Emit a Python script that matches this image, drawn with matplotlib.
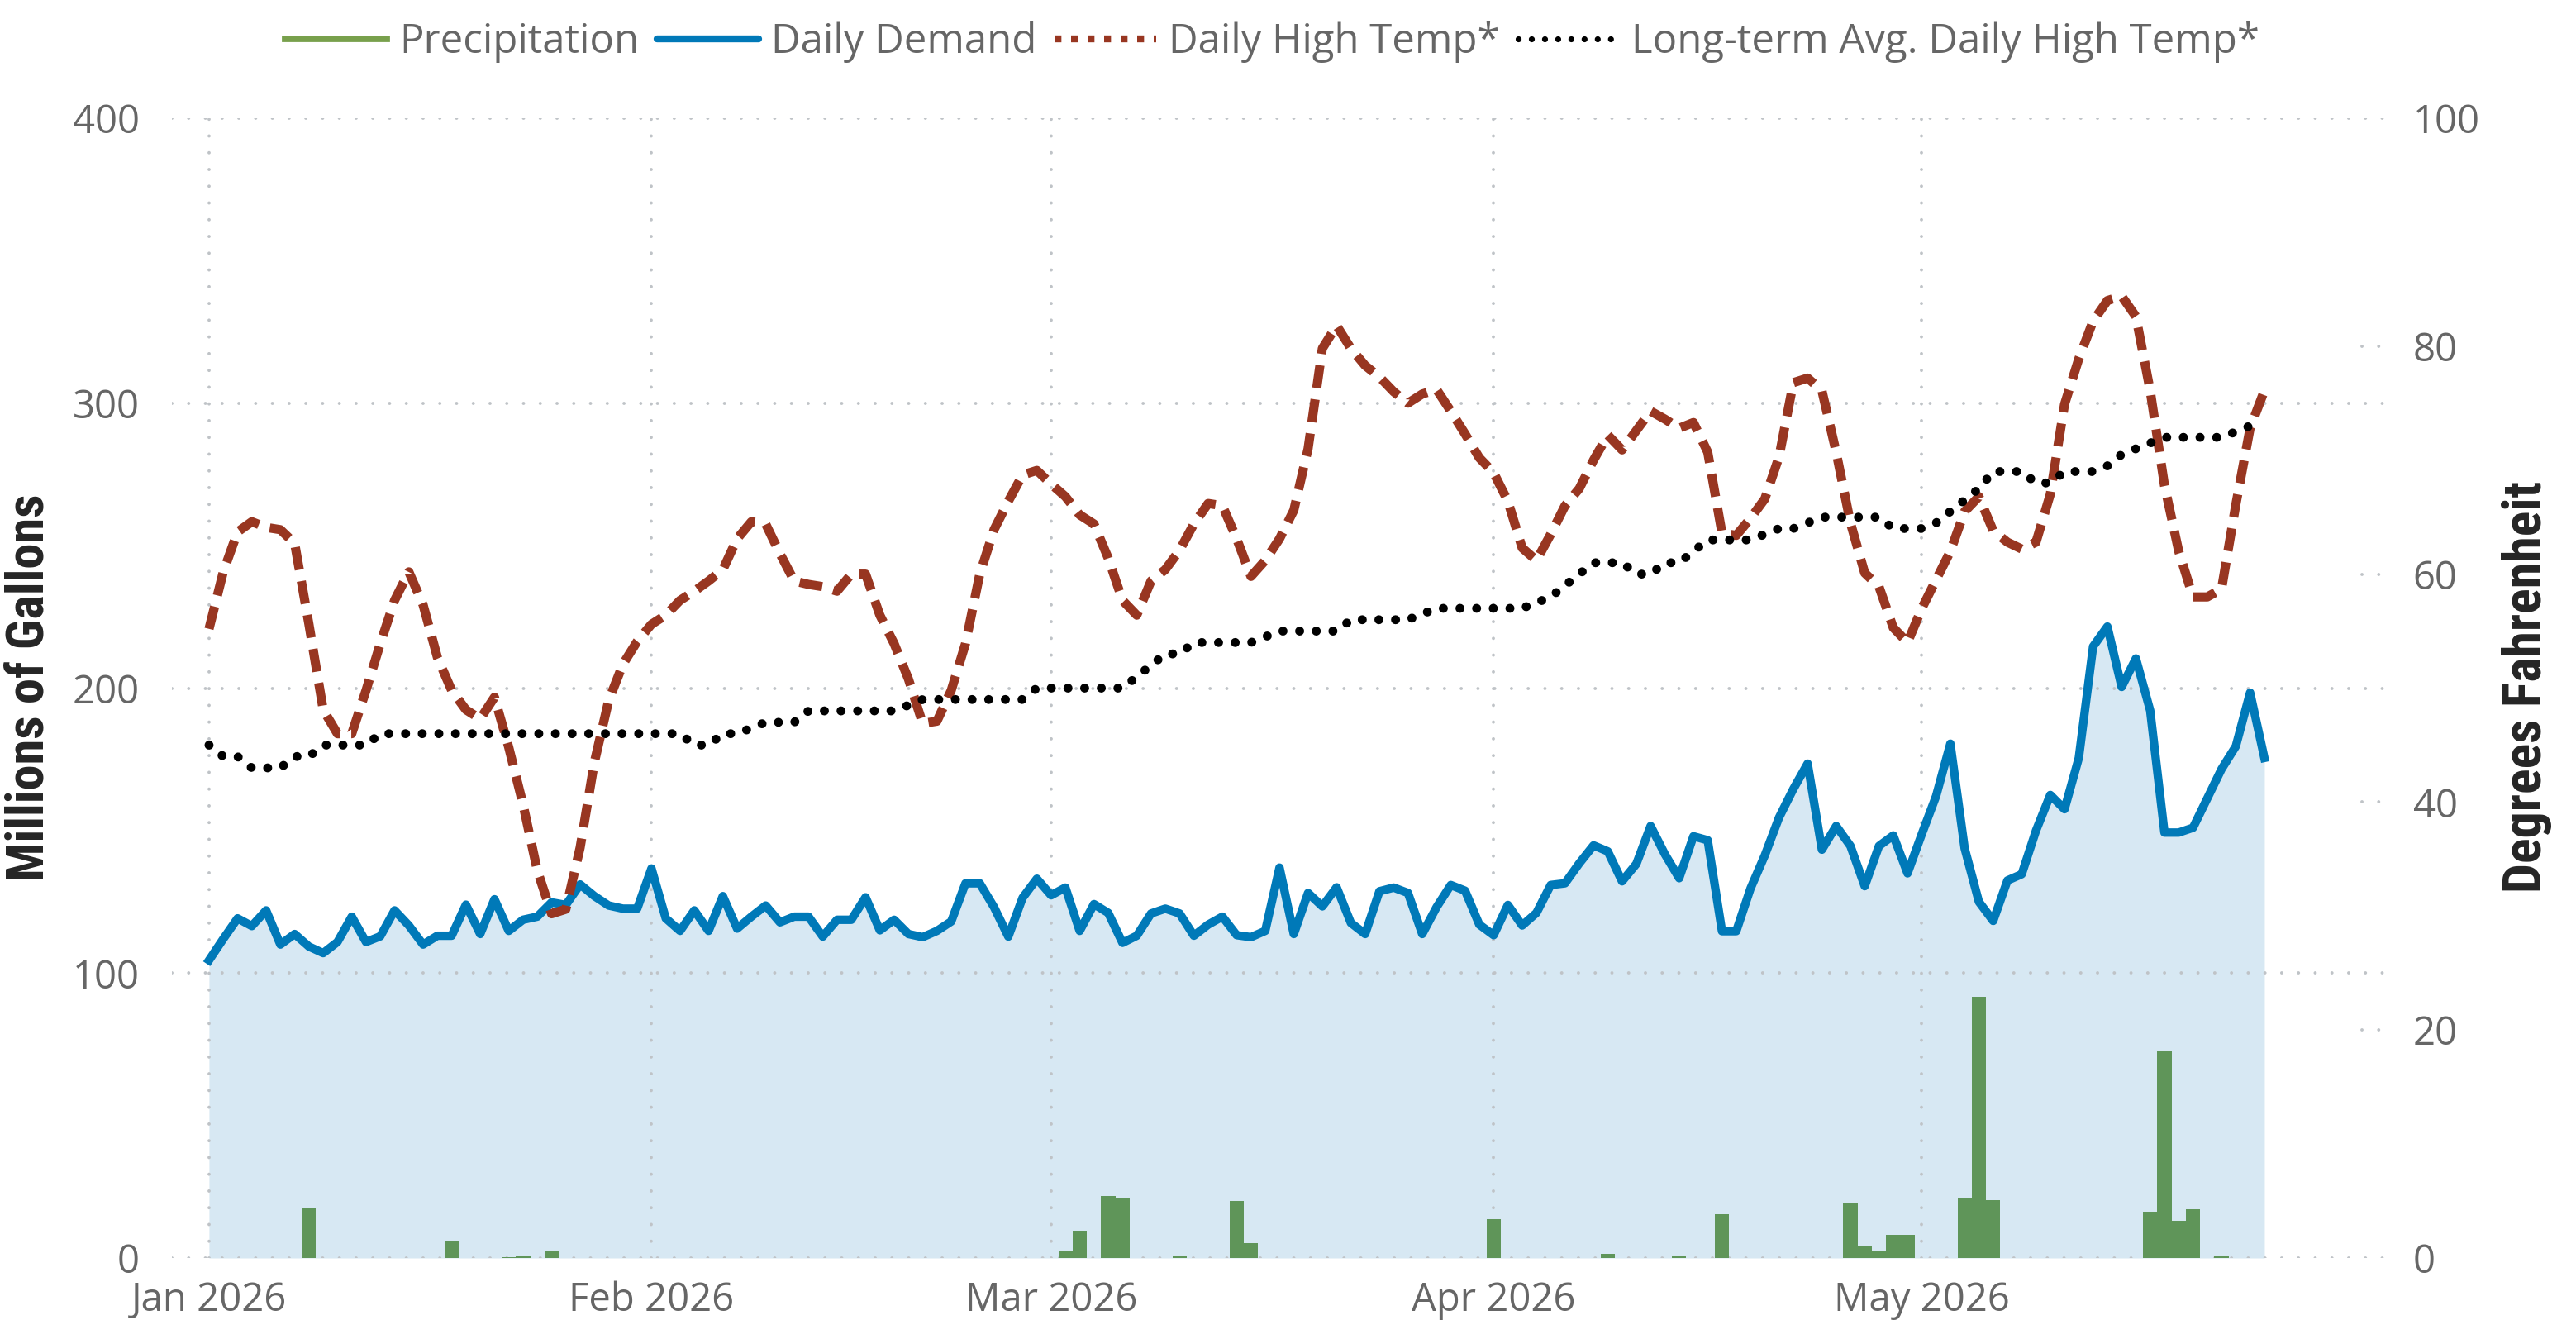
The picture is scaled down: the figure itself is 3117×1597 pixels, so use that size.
import matplotlib
matplotlib.use("Agg")
import matplotlib.pyplot as plt
import matplotlib.dates as mdates
from matplotlib.lines import Line2D
from matplotlib import font_manager
import pandas as pd

# ---------------- data ----------------
start_date = "2026-01-01"
end_date = "2026-05-25"

daily_demand = [
    104.5, 112.0, 119.2, 116.5, 122.0, 110.0, 113.7, 109.3, 107.0, 110.9,
    119.8, 110.9, 112.9, 122.0, 116.7, 110.0, 113.1, 113.1, 124.0, 113.7,
    125.9, 114.8, 118.7, 119.8, 124.8, 123.9, 131.1, 127.0, 123.7, 122.6,
    122.6, 136.7, 119.2, 114.8, 122.0, 114.8, 127.0, 115.6, 119.8, 123.7,
    117.8, 119.8, 119.8, 112.8, 118.7, 118.7, 126.6, 115.0, 118.7, 113.7,
    112.6, 114.8, 118.1, 131.5, 131.5, 123.1, 112.8, 126.4, 133.1, 127.3,
    130.0, 114.8, 124.2, 121.1, 110.6, 113.1, 120.9, 122.6, 120.9, 113.1,
    117.0, 119.8, 113.3, 112.6, 114.8, 137.0, 113.7, 128.1, 123.4, 130.1,
    117.6, 113.7, 128.7, 130.0, 128.1, 113.7, 123.1, 130.9, 128.9, 117.0,
    113.3, 123.9, 116.7, 121.1, 130.9, 131.5, 138.5, 144.8, 142.7, 132.2,
    138.3, 151.6, 141.7, 133.3, 148.0, 146.6, 114.7, 114.7, 129.7, 141.3,
    154.6, 164.6, 173.5, 143.3, 151.6, 144.6, 130.5, 144.6, 148.3, 135.0,
    148.8, 162.1, 180.5, 143.8, 125.0, 118.3, 132.5, 134.7, 150.0, 162.5,
    157.5, 175.5, 214.6, 221.6, 200.4, 210.4, 192.1, 149.3, 149.3, 151.0,
    161.3, 171.6, 179.6, 198.4, 175.5,
]

daily_high_temp = [
    55.2, 60.2, 63.7, 64.6, 64.1, 63.9, 62.7, 55.6, 48.1, 46.0,
    46.0, 49.8, 53.9, 57.7, 60.2, 57.3, 52.7, 49.8, 48.1, 47.3,
    49.2, 44.8, 39.8, 34.0, 30.2, 30.6, 36.0, 43.5, 48.9, 52.1,
    54.1, 55.6, 56.4, 57.7, 58.5, 59.4, 60.4, 63.1, 64.6, 64.4,
    61.8, 59.4, 59.1, 58.9, 58.5, 60.0, 60.0, 56.4, 53.9, 50.8,
    46.9, 47.1, 49.8, 53.9, 60.0, 63.9, 66.4, 68.7, 69.1, 67.9,
    66.8, 65.2, 64.4, 61.4, 57.7, 56.4, 59.4, 60.4, 62.1, 64.4,
    66.2, 66.0, 63.1, 59.8, 61.2, 63.1, 65.6, 71.0, 79.8, 81.8,
    79.8, 78.3, 77.3, 76.0, 75.0, 75.8, 76.2, 74.3, 72.3, 70.2,
    68.9, 66.4, 62.3, 61.2, 63.5, 66.0, 67.5, 70.0, 72.2, 70.9,
    72.6, 74.3, 73.6, 72.8, 73.3, 70.7, 63.6, 63.4, 64.9, 66.6,
    70.3, 76.8, 77.2, 76.1, 70.7, 64.5, 60.1, 58.9, 55.3, 54.0,
    57.0, 59.5, 62.0, 65.5, 66.8, 63.8, 62.8, 62.2, 62.8, 67.0,
    74.9, 78.9, 82.2, 84.0, 84.4, 82.6, 76.1, 67.8, 62.0, 58.0,
    58.0, 58.7, 66.1, 72.8, 76.1,
]

longterm_avg_temp = [
    45, 44, 44, 43, 43, 43, 44, 44, 45, 45,
    45, 45, 46, 46, 46, 46, 46, 46, 46, 46,
    46, 46, 46, 46, 46, 46, 46, 46, 46, 46,
    46, 46, 46, 46, 45, 45, 46, 46, 46.5, 47,
    47, 47, 48, 48, 48, 48, 48, 48, 48, 48.5,
    49, 49, 49, 49, 49, 49, 49, 49, 50, 50,
    50, 50, 50, 50, 50, 51, 52, 53, 53, 54,
    54, 54, 54, 54, 54.5, 55, 55, 55, 55, 55,
    56, 56, 56, 56, 56, 56.5, 57, 57, 57, 57,
    57, 57, 57, 57.5, 58, 59, 60, 61, 61, 61,
    60, 60, 61, 61, 62, 63, 63, 63, 63, 63.5,
    64, 64, 64.5, 65, 65, 65, 65, 65, 64, 64,
    64, 64.5, 65.5, 66.5, 67.5, 69, 69, 69, 68, 68,
    69, 69, 69, 69.5, 70.5, 71, 71.5, 72, 72, 72,
    72, 72, 72.5, 73, 73,
]

precip_dates = [
    "2026-01-08", "2026-01-18", "2026-01-22", "2026-01-23", "2026-01-25",
    "2026-03-02", "2026-03-03", "2026-03-05", "2026-03-06", "2026-03-10",
    "2026-03-14", "2026-03-15", "2026-04-01", "2026-04-09", "2026-04-14",
    "2026-04-17", "2026-04-26", "2026-04-27", "2026-04-28", "2026-04-29",
    "2026-04-30", "2026-05-04", "2026-05-05", "2026-05-06", "2026-05-17",
    "2026-05-18", "2026-05-19", "2026-05-20", "2026-05-22",
]
precip_inches = [
    0.178, 0.058, 0.003, 0.008, 0.024,
    0.022, 0.096, 0.218, 0.208, 0.008,
    0.199, 0.052, 0.135, 0.014, 0.006,
    0.153, 0.192, 0.042, 0.027, 0.082,
    0.082, 0.212, 0.918, 0.202, 0.162,
    0.727, 0.131, 0.172, 0.008,
]

left_ticks = [0, 100, 200, 300, 400]
right_ticks = [0, 20, 40, 60, 80, 100]
month_ticks = ["2026-01-01", "2026-02-01", "2026-03-01", "2026-04-01", "2026-05-01"]

legend_labels = ["Precipitation", "Daily Demand", "Daily High Temp*",
                 "Long-term Avg. Daily High Temp*"]

# ---------------- style ----------------
BLUE = "#0079B8"
FILL = "#D7E8F3"
RED = "#983621"
GREEN_BAR = "#5F9559"
GREEN_LEG = "#78A04C"
GRID = "#BFC3C7"
TICK_COL = "#666666"
LABEL_COL = "#252525"

available = {f.name for f in font_manager.fontManager.ttflist}
base_font = "Open Sans" if "Open Sans" in available else "DejaVu Sans"
label_font = None
for cand in ["Liberation Sans Narrow", "Roboto Condensed", "DejaVu Sans Condensed"]:
    if cand in available:
        label_font = cand
        break
if label_font is None:
    label_font = base_font

plt.rcParams["font.family"] = [base_font, "DejaVu Sans"]

dates = pd.date_range(start_date, end_date, freq="D")
p_dates = pd.to_datetime(precip_dates)

W, H = 3117, 1597
fig = plt.figure(figsize=(W / 200, H / 200), dpi=200)
L, R, B, T = 208 / W, 2885 / W, 1 - 1522 / H, 1 - 143 / H
ax = fig.add_axes([L, B, R - L, T - B])
ax_p = ax.twinx()
ax_t = ax.twinx()

# demand area + line
ax.fill_between(dates, 0, daily_demand, color=FILL, lw=0, zorder=1)
ax.plot(dates, daily_demand, color=BLUE, lw=3.7, zorder=3)

# precipitation bars on a hidden axis
ax_p.bar(p_dates, precip_inches, width=1.0, color=GREEN_BAR, lw=0, zorder=2)
ax_p.set_ylim(0, 4)
ax_p.axis("off")

# temperatures
ax_t.plot(dates, daily_high_temp, color=RED, lw=4.0,
          linestyle=(0, (2.5, 1.25)), dash_capstyle="butt", zorder=4)
ax_t.plot(dates, longterm_avg_temp, color="black", lw=3.9,
          linestyle=(0, (0.01, 1.85)), dash_capstyle="round", zorder=5)
ax_t.set_ylim(0, 100)
ax_t.set_yticks(right_ticks)

# axes formatting
x0 = pd.Timestamp(start_date)
ax.set_xlim(x0 - pd.Timedelta(days=2.6), x0 + pd.Timedelta(days=152.4))
ax.set_ylim(0, 400)
ax.set_yticks(left_ticks)
ax.set_xticks(pd.to_datetime(month_ticks))
ax.xaxis.set_major_formatter(mdates.DateFormatter("%b %Y"))

grid_style = dict(color=GRID, linewidth=1.4, linestyle=(0, (0.01, 5.2)),
                  dash_capstyle="round")
ax.grid(True, axis="both", **grid_style)
ax.set_axisbelow("line")
for yv in right_ticks[1:-1]:
    ax_t.axhline(yv, xmin=0.99, xmax=1.0, zorder=0, **grid_style)

for a in (ax, ax_t):
    for s in a.spines.values():
        s.set_visible(False)
ax.tick_params(axis="both", length=0, labelsize=17, labelcolor=TICK_COL)
ax.tick_params(axis="y", pad=14)
ax.tick_params(axis="x", pad=10)
ax_t.tick_params(axis="y", length=0, labelsize=17, labelcolor=TICK_COL, pad=12.5)

fig.text(36 / W, 1 - 832 / H, "Millions of Gallons", rotation=90,
         ha="center", va="center", fontsize=22.5, fontweight="bold",
         color=LABEL_COL, family=[label_font, "DejaVu Sans"])
fig.text(3058 / W, 1 - 831 / H, "Degrees Fahrenheit", rotation=90,
         ha="center", va="center", fontsize=23, fontweight="bold",
         color=LABEL_COL, family=[label_font, "DejaVu Sans"])

handles = [
    Line2D([], [], color=GREEN_LEG, lw=2.8),
    Line2D([], [], color=BLUE, lw=3.0, solid_capstyle="round"),
    Line2D([], [], color=RED, lw=3.0, linestyle=(0, (1.0, 1.4))),
    Line2D([], [], color="black", lw=2.6, linestyle=(0, (0.01, 2.2)),
           dash_capstyle="round"),
]
fig.legend(handles, legend_labels, loc="center", bbox_to_anchor=(0.494, 0.968),
           ncol=4, frameon=False, fontsize=17.7, labelcolor=TICK_COL,
           handlelength=2.5, handletextpad=0.3, columnspacing=0.45,
           borderpad=0)

fig.savefig("out.png", dpi=200, facecolor="white")
